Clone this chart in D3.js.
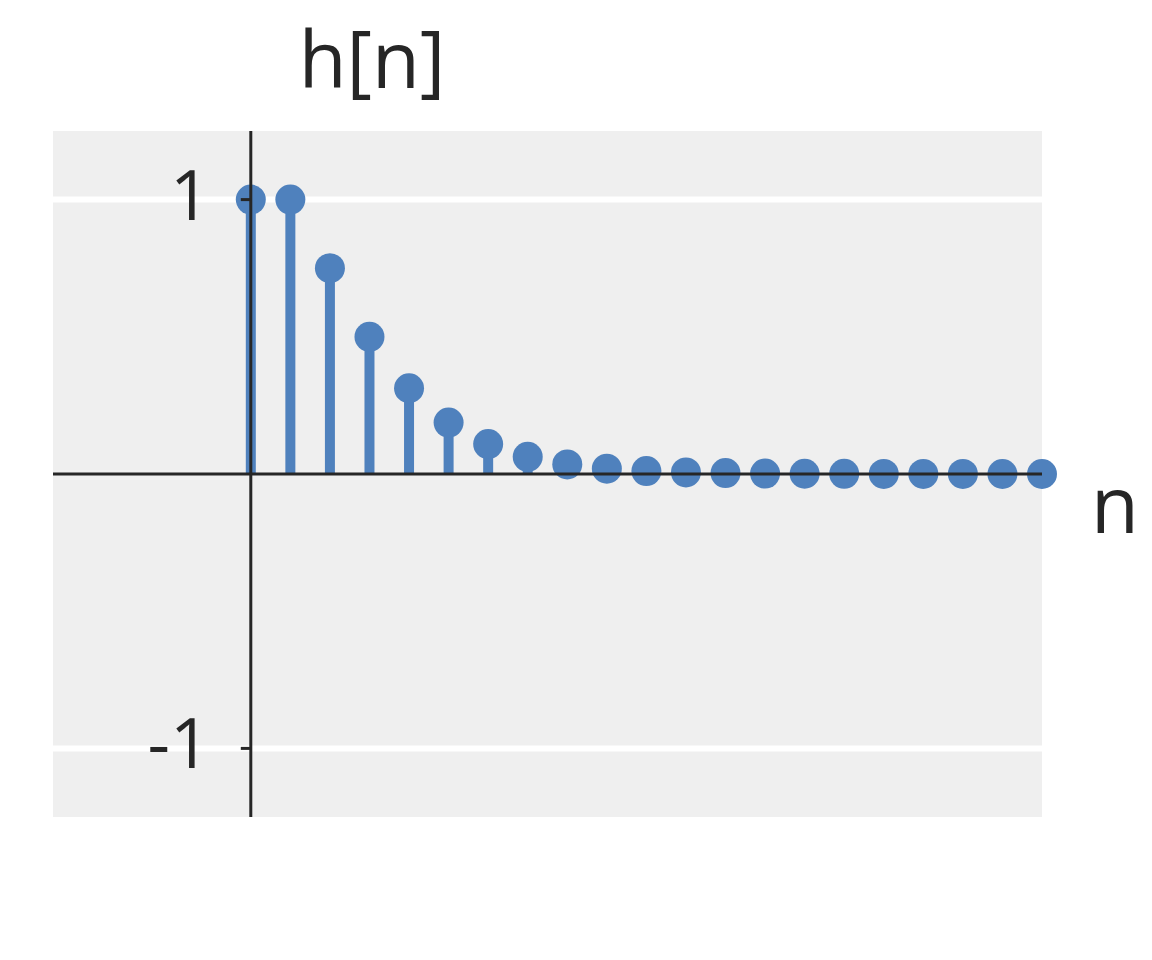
<!DOCTYPE html>
<html>
<head>
<meta charset="utf-8">
<script src="https://cdn.jsdelivr.net/npm/d3@7"></script>
<style>
  body { margin: 0; background: #fff; }
  text { font-family: "Open Sans", "DejaVu Sans", sans-serif; fill: #262626; }
</style>
</head>
<body>
<div id="chart"></div>
<script>
// samples of h[n], n = 0..20
var nValues = [0,1,2,3,4,5,6,7,8,9,10,11,12,13,14,15,16,17,18,19,20]
var hValues = [1, 1, 0.75, 0.5, 0.3125, 0.1875, 0.109, 0.0625, 0.035, 0.0195, 0.0107,
               0.0059, 0.0032, 0.0017, 0.0009, 0.0005, 0.0003, 0.0001, 0.0001, 0, 0]
var yTicks = [-1, 1]
var yTickLabels = ["-1", "1"]

var width = 1152, height = 960
var padLeft = 53, padRight = 1042, padTop = 131, padBottom = 817
var stemColor = "#4f81bd"
var ink = "#262626"

var svg = d3.select("#chart").append("svg")
    .attr("width", width)
    .attr("height", height)

var x = d3.scaleLinear().domain([-5, 20]).range([padLeft, padRight])
var y = d3.scaleLinear().domain([-1.25, 1.25]).range([padBottom, padTop])

// background panel
svg.append("rect")
    .attr("x", padLeft).attr("y", padTop)
    .attr("width", padRight - padLeft).attr("height", padBottom - padTop)
    .attr("fill", "#efefef")

// white grid lines
svg.selectAll(".grid").data(yTicks).enter().append("line")
    .attr("x1", padLeft).attr("x2", padRight)
    .attr("y1", d => y(d)).attr("y2", d => y(d))
    .attr("stroke", "#fff").attr("stroke-width", 6)

var pts = nValues.map((n, i) => ({n: n, h: hValues[i]}))

// stems
svg.selectAll(".stem").data(pts).enter().append("line")
    .attr("x1", d => x(d.n)).attr("x2", d => x(d.n))
    .attr("y1", y(0)).attr("y2", d => y(d.h))
    .attr("stroke", stemColor).attr("stroke-width", 10)

// markers
svg.selectAll(".dot").data(pts).enter().append("circle")
    .attr("cx", d => x(d.n)).attr("cy", d => y(d.h))
    .attr("r", 15)
    .attr("fill", stemColor)

// axes through the origin
svg.append("line")
    .attr("x1", padLeft).attr("x2", padRight)
    .attr("y1", y(0)).attr("y2", y(0))
    .attr("stroke", ink).attr("stroke-width", 3)
svg.append("line")
    .attr("x1", x(0)).attr("x2", x(0))
    .attr("y1", padTop).attr("y2", padBottom)
    .attr("stroke", ink).attr("stroke-width", 3)

// y ticks
svg.selectAll(".tick").data(yTicks).enter().append("line")
    .attr("x1", x(0) - 10).attr("x2", x(0))
    .attr("y1", d => y(d)).attr("y2", d => y(d))
    .attr("stroke", ink).attr("stroke-width", 3)

svg.selectAll(".ticklabel").data(yTicks).enter().append("text")
    .attr("x", 210)
    .attr("y", d => y(d) + 20)
    .attr("text-anchor", "end")
    .attr("font-size", 70)
    .text((d, i) => yTickLabels[i])

// axis labels
svg.append("text")
    .attr("x", 372).attr("y", 88)
    .attr("text-anchor", "middle")
    .attr("font-size", 78)
    .text("h[n]")

svg.append("text")
    .attr("x", 1115).attr("y", 533)
    .attr("text-anchor", "middle")
    .attr("font-size", 78)
    .text("n")
</script>
</body>
</html>
